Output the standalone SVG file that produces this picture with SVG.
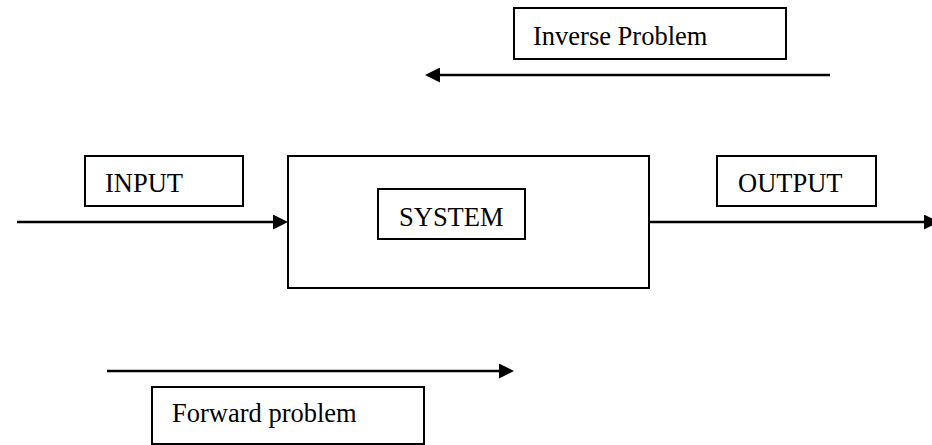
<svg xmlns="http://www.w3.org/2000/svg" width="932" height="445" viewBox="0 0 932 445">
<style>
.box{fill:#fff;stroke:#000;stroke-width:2}
.lbl{font-family:"Liberation Serif","Times New Roman",serif;font-size:26.5px;fill:#000}
.conn{stroke:#000;stroke-width:2.6;fill:none}
</style>
<defs>
<marker id="ah" markerUnits="userSpaceOnUse" markerWidth="15" markerHeight="15" refX="0" refY="7.5" orient="auto">
<path d="M0,0 L15,7.5 L0,15 z" fill="#000"/>
</marker>
</defs>
<rect width="932" height="445" fill="#fff"/>
<g id="connectors">
<line class="conn" x1="830" y1="75" x2="440" y2="75" marker-end="url(#ah)"/>
<line class="conn" x1="17" y1="222" x2="273" y2="222" marker-end="url(#ah)"/>
<line class="conn" x1="649" y1="222" x2="924" y2="222" marker-end="url(#ah)"/>
<line class="conn" x1="107" y1="371" x2="499" y2="371" marker-end="url(#ah)"/>
</g>
<g id="system"><rect class="box" x="288" y="156" width="361" height="132"/></g>
<g id="system-label"><rect class="box" x="378" y="189" width="147" height="50"/><text class="lbl" x="399" y="226">SYSTEM</text></g>
<g id="inverse"><rect class="box" x="514" y="8" width="272" height="51"/><text class="lbl" x="533" y="45">Inverse Problem</text></g>
<g id="input"><rect class="box" x="85" y="156" width="158" height="50"/><text class="lbl" x="105" y="192">INPUT</text></g>
<g id="output"><rect class="box" x="717" y="156" width="159" height="50"/><text class="lbl" x="738" y="192">OUTPUT</text></g>
<g id="forward"><rect class="box" x="152" y="387" width="272" height="57"/><text class="lbl" x="172" y="422">Forward problem</text></g>
</svg>
